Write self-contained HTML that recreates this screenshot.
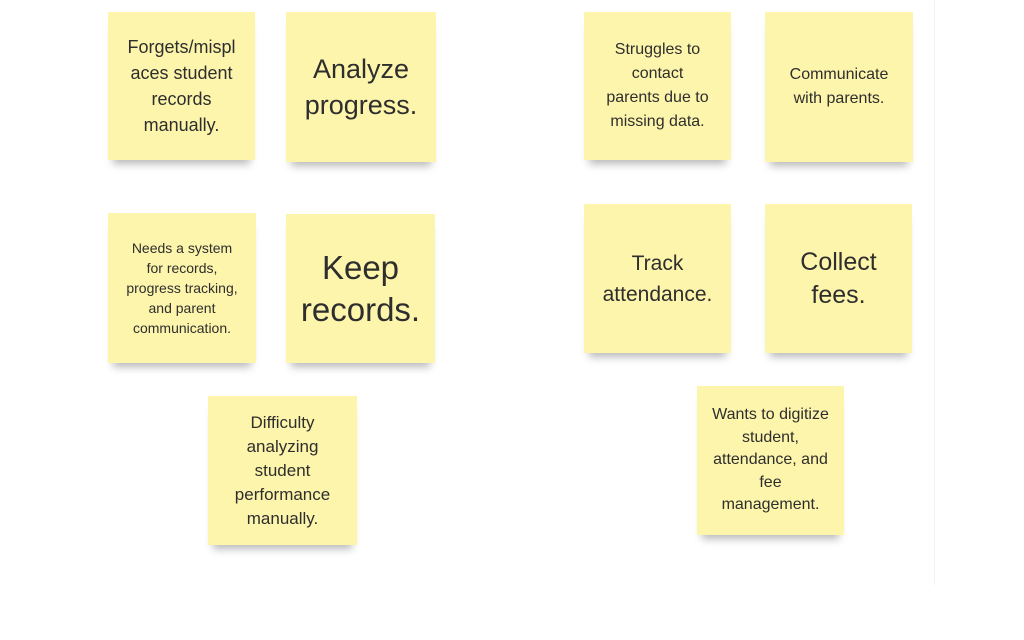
<!DOCTYPE html>
<html><head><style>
body{margin:0;width:1024px;height:640px;background:#fff;position:relative;overflow:hidden;font-family:"Liberation Sans",sans-serif;}
.n{position:absolute;background:#fdf5ab;color:#2e2e2e;display:flex;align-items:center;justify-content:center;text-align:center;box-shadow:0 9px 8px -5px rgba(0,0,0,0.28);line-height:1.3;box-sizing:border-box;padding:0 8px;}
.edge{position:absolute;left:934px;top:0;width:1px;height:585px;background:#f2f2f2;}
</style></head><body>
<div class="edge"></div>
<div class="n" style="left:108px;top:12px;width:147px;height:148px;font-size:18px;line-height:26px">Forgets/mispl<br>aces student<br>records<br>manually.</div>
<div class="n" style="left:286px;top:12px;width:150px;height:150px;font-size:27px;line-height:36px">Analyze<br>progress.</div>
<div class="n" style="left:108px;top:213px;width:148px;height:150px;font-size:14px;line-height:20px">Needs a system<br>for records,<br>progress tracking,<br>and parent<br>communication.</div>
<div class="n" style="left:286px;top:214px;width:149px;height:149px;font-size:33px;line-height:42px">Keep<br>records.</div>
<div class="n" style="left:208px;top:396px;width:149px;height:149px;font-size:17px;line-height:24px">Difficulty<br>analyzing<br>student<br>performance<br>manually.</div>
<div class="n" style="left:584px;top:12px;width:147px;height:148px;font-size:16px;line-height:24px">Struggles to<br>contact<br>parents due to<br>missing data.</div>
<div class="n" style="left:765px;top:12px;width:148px;height:150px;font-size:16px;line-height:24px">Communicate<br>with parents.</div>
<div class="n" style="left:584px;top:204px;width:147px;height:149px;font-size:21px;line-height:31px">Track<br>attendance.</div>
<div class="n" style="left:765px;top:204px;width:147px;height:149px;font-size:25px;line-height:33px">Collect<br>fees.</div>
<div class="n" style="left:697px;top:386px;width:147px;height:149px;font-size:16px;line-height:22.5px">Wants to digitize<br>student,<br>attendance, and<br>fee<br>management.</div>
</body></html>
